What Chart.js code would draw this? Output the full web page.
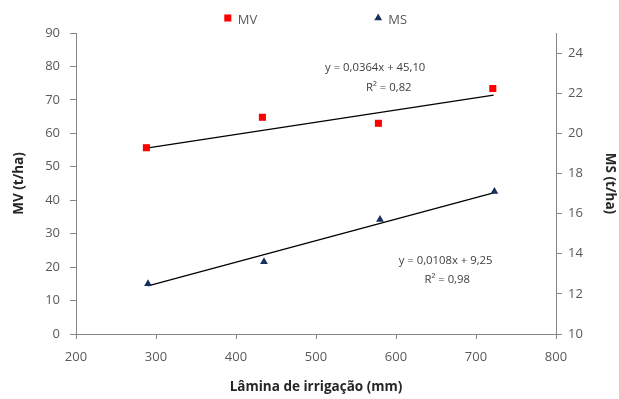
<!DOCTYPE html>
<html>
<head>
<meta charset="utf-8">
<script src="https://cdn.jsdelivr.net/npm/chart.js@4/dist/chart.umd.min.js"></script>
<style>
  html, body { margin: 0; padding: 0; background: #fff; }
  #wrap { width: 619px; height: 399px; }
</style>
</head>
<body>
<div id="wrap"><canvas id="chart" width="619" height="399"></canvas></div>
<script>
// values
const lamina = [288, 433, 578, 721];
const mvValues = [55.7, 64.8, 63.0, 73.4];
const msLamina = [290, 435, 580, 723];
const msValues = [12.5, 13.6, 15.7, 17.1];

// trend line end points
const mvTrendX = [288, 722];
const mvTrendY = [55.6, 71.4];
const msTrendX = [290, 723];
const msTrendY = [12.4, 17.05];

const xTicks = [200, 300, 400, 500, 600, 700, 800];
const mvTicks = [0, 10, 20, 30, 40, 50, 60, 70, 80, 90];
const msTicks = [10, 12, 14, 16, 18, 20, 22, 24];

const eqMV = ['y = 0,0364x + 45,10', 'R² = 0,82'];
const eqMS = ['y = 0,0108x + 9,25', 'R² = 0,98'];

const FONT = '"Open Sans", "DejaVu Sans", sans-serif';
const GREY = '#868686';
const TXT = '#595959';

const pts = (xs, ys) => xs.map((x, i) => ({ x: x, y: ys[i] }));

// legend drawn by hand so the two items sit far apart like the original
const legendPlugin = {
  id: 'wideLegend',
  afterDraw(chart) {
    const ctx = chart.ctx;
    const items = [
      { ds: chart.data.datasets[0], cx: chart.width * 0.368 },
      { ds: chart.data.datasets[1], cx: chart.width * 0.611 }
    ];
    ctx.save();
    ctx.font = '13px ' + FONT;
    ctx.textBaseline = 'middle';
    items.forEach(it => {
      ctx.fillStyle = it.ds.backgroundColor;
      ctx.strokeStyle = it.ds.backgroundColor;
      Chart.helpers.drawPoint(ctx, { pointStyle: it.ds.pointStyle, radius: it.ds.pointRadius, borderWidth: 0 }, it.cx, 18);
      ctx.fillStyle = TXT;
      ctx.fillText(it.ds.label, it.cx + 10, 20);
    });
    ctx.restore();
  }
};

// regression equations
const eqPlugin = {
  id: 'equations',
  afterDraw(chart) {
    const ctx = chart.ctx;
    const x = chart.scales.x, y = chart.scales.y;
    ctx.save();
    ctx.font = '11.3px ' + FONT;
    ctx.fillStyle = '#404040';
    ctx.textAlign = 'center';
    ctx.textBaseline = 'middle';
    ctx.fillText(eqMV[0], x.getPixelForValue(574), y.getPixelForValue(79.5));
    ctx.fillText(eqMV[1], x.getPixelForValue(591), y.getPixelForValue(73.6));
    ctx.fillText(eqMS[0], x.getPixelForValue(662), y.getPixelForValue(21.8));
    ctx.fillText(eqMS[1], x.getPixelForValue(664), y.getPixelForValue(16.2));
    ctx.restore();
  }
};

new Chart(document.getElementById('chart'), {
  type: 'scatter',
  data: {
    datasets: [
      {
        label: 'MV',
        data: pts(lamina, mvValues),
        yAxisID: 'y',
        pointStyle: 'rect',
        pointRadius: 5,
        pointHoverRadius: 5,
        backgroundColor: '#ff0000',
        borderColor: '#ff0000',
        borderWidth: 0,
        order: 0
      },
      {
        label: 'MS',
        data: pts(msLamina, msValues),
        yAxisID: 'y2',
        pointStyle: 'triangle',
        pointRadius: 4.5,
        pointHoverRadius: 4.5,
        backgroundColor: '#16325c',
        borderColor: '#16325c',
        borderWidth: 0,
        order: 0
      },
      {
        label: 'trend MV',
        type: 'line',
        data: pts(mvTrendX, mvTrendY),
        yAxisID: 'y',
        borderColor: '#000',
        borderWidth: 1.3,
        pointRadius: 0,
        fill: false,
        order: 1
      },
      {
        label: 'trend MS',
        type: 'line',
        data: pts(msTrendX, msTrendY),
        yAxisID: 'y2',
        borderColor: '#000',
        borderWidth: 1.3,
        pointRadius: 0,
        fill: false,
        order: 1
      }
    ]
  },
  options: {
    responsive: false,
    animation: false,
    layout: { padding: { top: 33 } },
    plugins: {
      legend: { display: false },
      tooltip: { enabled: false }
    },
    scales: {
      x: {
        type: 'linear',
        min: xTicks[0],
        max: xTicks[xTicks.length - 1],
        afterFit: s => { s.height = 65; },
        afterBuildTicks: s => { s.ticks = xTicks.map(v => ({ value: v })); },
        ticks: { color: TXT, font: { family: FONT, size: 13 }, padding: 10 },
        grid: { drawOnChartArea: false, tickLength: 5, color: GREY },
        border: { color: GREY },
        title: {
          display: true,
          text: 'Lâmina de irrigação (mm)',
          color: '#262626',
          font: { family: FONT, size: 13.5, weight: 'bold' },
          padding: { top: 4, bottom: 4 }
        }
      },
      y: {
        position: 'left',
        min: mvTicks[0],
        max: mvTicks[mvTicks.length - 1],
        afterFit: s => { s.width = 76; },
        afterBuildTicks: s => { s.ticks = mvTicks.map(v => ({ value: v })); },
        ticks: { color: TXT, font: { family: FONT, size: 13 }, padding: 10 },
        grid: { drawOnChartArea: false, tickLength: 6, color: GREY },
        border: { color: GREY },
        title: {
          display: true,
          text: 'MV (t/ha)',
          color: '#262626',
          font: { family: FONT, size: 13.5, weight: 'bold' },
          padding: { top: 11, bottom: 0 }
        }
      },
      y2: {
        position: 'right',
        min: 10,
        max: 25,
        afterFit: s => { s.width = 63; },
        afterBuildTicks: s => { s.ticks = msTicks.map(v => ({ value: v })); },
        ticks: { color: TXT, font: { family: FONT, size: 13 }, padding: 6 },
        grid: { drawOnChartArea: false, tickLength: 6, color: GREY },
        border: { color: GREY },
        title: {
          display: true,
          text: 'MS (t/ha)',
          color: '#262626',
          font: { family: FONT, size: 13.5, weight: 'bold' },
          padding: { top: 1, bottom: 0 }
        }
      }
    }
  },
  plugins: [legendPlugin, eqPlugin]
});
</script>
</body>
</html>
